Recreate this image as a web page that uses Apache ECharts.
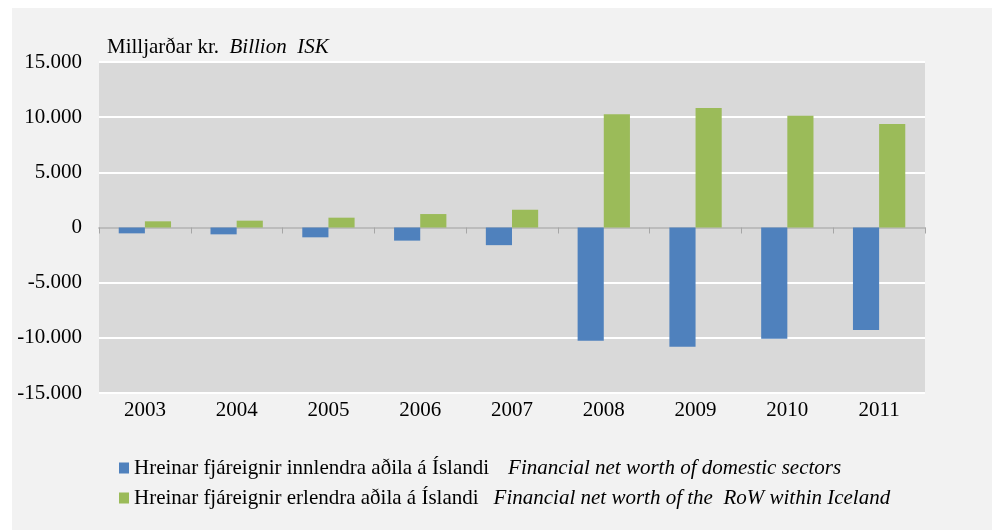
<!DOCTYPE html>
<html>
<head>
<meta charset="utf-8">
<script src="https://cdn.jsdelivr.net/npm/echarts@6/dist/echarts.min.js"></script>
<style>
  html, body { margin: 0; padding: 0; background: #ffffff; }
  #wrap { position: absolute; left: 12px; top: 8px; width: 980px; height: 522px; background: #f2f2f2; }
  #chart { width: 980px; height: 522px; }
</style>
</head>
<body>
<div id="wrap"><div id="chart"></div></div>
<script>
// ár
const years = ["2003", "2004", "2005", "2006", "2007", "2008", "2009", "2010", "2011"];

// innlendir aðilar (neikvætt)
const domestic = [-530, -620, -890, -1190, -1600, -10270, -10810, -10090, -9280];
// erlendir aðilar
const foreign = [560, 620, 890, 1220, 1610, 10270, 10840, 10120, 9390];

const yTicks = [-15000, -10000, -5000, 0, 5000, 10000, 15000];

const nameDomestic = "Hreinar fjáreignir innlendra aðila á Íslandi";
const nameDomesticEn = "Financial net worth of domestic sectors";
const nameForeign = "Hreinar fjáreignir erlendra aðila á Íslandi";
const nameForeignEn = "Financial net worth of the  RoW within Iceland";

const serif = "'Liberation Serif', 'Times New Roman', serif";

function fmt(v) {
  const s = Math.abs(v).toString().replace(/\B(?=(\d{3})+(?!\d))/g, ".");
  return v < 0 ? "-" + s : s;
}

const chart = echarts.init(document.getElementById("chart"));

const option = {
  animation: false,
  textStyle: { fontFamily: serif },
  title: {
    text: "Milljarðar kr.  {i|Billion  ISK}",
    left: 90,
    top: 24,
    textStyle: {
      fontFamily: serif,
      fontWeight: "normal",
      fontSize: 21,
      color: "#000",
      rich: { i: { fontFamily: serif, fontStyle: "italic", fontSize: 21, color: "#000" } }
    }
  },
  grid: { left: 87, right: 67, top: 54, bottom: 137 },
  legend: {
    orient: "vertical",
    left: 102,
    top: 444,
    itemWidth: 10,
    itemHeight: 11,
    itemGap: 8,
    icon: "rect",
    data: [nameDomestic, nameForeign],
    formatter: (name) => {
      if (name === nameDomestic) return "{a|" + name + "}{g1|}{b|" + nameDomesticEn + "}";
      return "{a|" + name + "}{g2|}{b|" + nameForeignEn + "}";
    },
    textStyle: {
      fontFamily: serif,
      fontSize: 21,
      color: "#000",
      lineHeight: 22,
      rich: {
        a: { fontFamily: serif, fontSize: 21, color: "#000" },
        b: { fontFamily: serif, fontSize: 21, fontStyle: "italic", color: "#000" },
        g1: { width: 19 },
        g2: { width: 15 }
      }
    }
  },
  xAxis: [
    {
      type: "category",
      data: years,
      axisLine: { onZero: true, lineStyle: { color: "#a6a6a6", width: 1.5 } },
      axisTick: { show: true, length: 6, lineStyle: { color: "#a6a6a6" } },
      axisLabel: { show: false },
      splitLine: { show: false }
    },
    {
      type: "category",
      data: years,
      position: "bottom",
      axisLine: { show: false, onZero: false },
      axisTick: { show: false },
      axisLabel: { fontFamily: serif, fontSize: 21, color: "#000", margin: 7 }
    }
  ],
  yAxis: {
    type: "value",
    min: yTicks[0],
    max: yTicks[yTicks.length - 1],
    interval: 5000,
    axisLine: { show: false },
    axisTick: { show: false },
    axisLabel: { fontFamily: serif, fontSize: 21, color: "#000", margin: 17, formatter: fmt },
    splitLine: { lineStyle: { color: "#ffffff", width: 2 } },
    splitArea: { show: true, areaStyle: { color: ["#d9d9d9", "#d9d9d9"] } }
  },
  series: [
    {
      name: nameDomestic,
      type: "bar",
      data: domestic,
      xAxisIndex: 0,
      barGap: "0%",
      barCategoryGap: "43%",
      itemStyle: { color: "#4f81bd" }
    },
    {
      name: nameForeign,
      type: "bar",
      data: foreign,
      xAxisIndex: 0,
      itemStyle: { color: "#9bbb59" }
    }
  ]
};

chart.setOption(option);
</script>
</body>
</html>
